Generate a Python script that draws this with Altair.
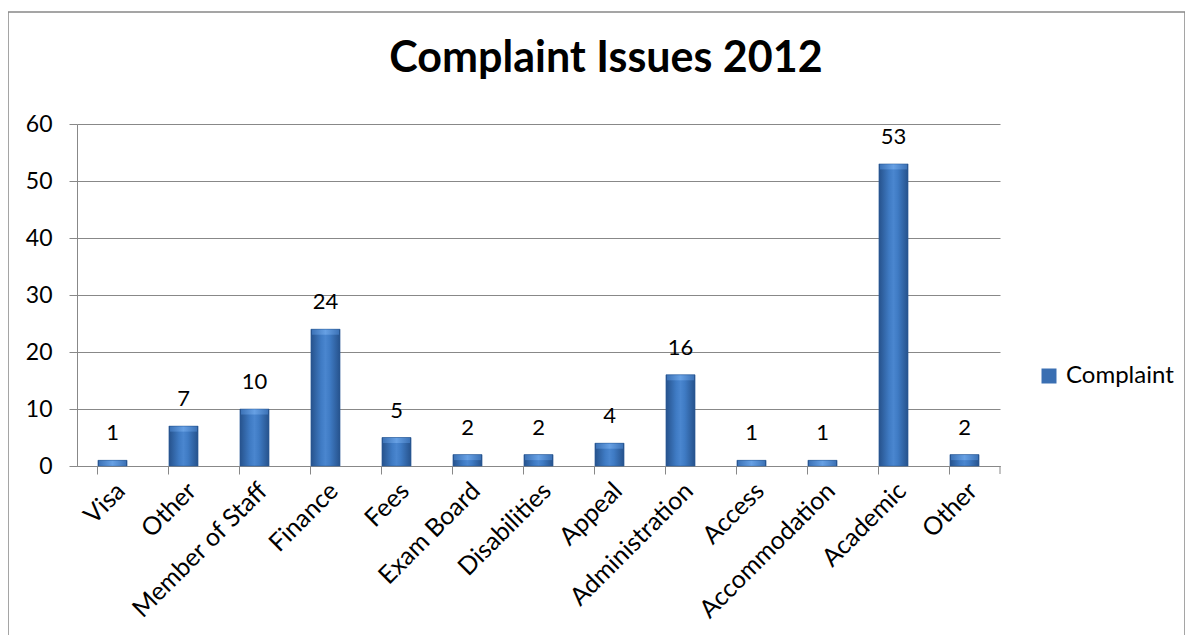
import altair as alt
import pandas as pd
import json

categories = ["Visa", "Other", "Member of Staff", "Finance", "Fees", "Exam Board",
              "Disabilities", "Appeal", "Administration", "Access", "Accommodation",
              "Academic", "Other"]
values = [1, 7, 10, 24, 5, 2, 2, 4, 16, 1, 1, 53, 2]
series = "Complaint"
title_text = "Complaint Issues 2012"

df = pd.DataFrame({
    "idx": list(range(len(categories))),
    "name": categories,
    "value": values,
    "series": [series] * len(categories),
})

FONT = "Lato"
W, H = 923, 342

label_expr = "%s[datum.value]" % json.dumps(categories)

x = alt.X("idx:O",
          scale=alt.Scale(paddingInner=0.59, paddingOuter=0.295),
          axis=alt.Axis(title=None, labelExpr=label_expr, labelAngle=-45,
                        labelAlign="right", labelBaseline="top",
                        labelFontSize=25, labelFont=FONT, labelColor="#000000",
                        labelPadding=4, bandPosition=0, tickSize=8,
                        tickColor="#888888", domainColor="#888888",
                        labelOverlap=False))
y = alt.Y("value:Q",
          scale=alt.Scale(domain=[0, 60]),
          axis=alt.Axis(title=None, values=[0, 10, 20, 30, 40, 50, 60],
                        labelFontSize=23, labelFont=FONT, labelColor="#000000",
                        tickSize=8, tickColor="#888888", domainColor="#888888",
                        gridColor="#888888", gridWidth=1, labelPadding=17))

base = alt.Chart(df)

legend_bars = base.mark_bar().encode(
    x=x, y=y,
    color=alt.Color("series:N",
                    scale=alt.Scale(range=["#3a6fb2"]),
                    legend=alt.Legend(title=None, orient="none",
                                      legendX=960, legendY=240,
                                      symbolType="square", symbolSize=225,
                                      labelFontSize=24, labelFont=FONT,
                                      labelOffset=5,
                                      labelColor="#000000", symbolStrokeWidth=0)),
)

grad = alt.Gradient(
    gradient="linear",
    stops=[alt.GradientStop(color="#26528c", offset=0),
           alt.GradientStop(color="#3f7bc4", offset=0.35),
           alt.GradientStop(color="#4a86cf", offset=0.5),
           alt.GradientStop(color="#3f7bc4", offset=0.65),
           alt.GradientStop(color="#26528c", offset=1)],
    x1=0, x2=1, y1=0, y2=0,
)

bars = base.mark_bar(fill=grad, stroke="#2a5a96", strokeWidth=0.5).encode(x=x, y=y)

bevel_grad = alt.Gradient(
    gradient="linear",
    stops=[alt.GradientStop(color="#3f76bb", offset=0),
           alt.GradientStop(color="#6aa3e6", offset=0.5),
           alt.GradientStop(color="#3f76bb", offset=1)],
    x1=0, x2=1, y1=0, y2=0,
)

bevel = base.mark_tick(fill=bevel_grad, thickness=5, size=27, yOffset=3,
                       opacity=0.9).encode(x=x, y=y)

labels = base.mark_text(fontSize=22, font=FONT, color="#000000",
                        baseline="middle", dy=-27).encode(
    x=x, y=y, text=alt.Text("value:Q"))

one = pd.DataFrame({"v": [0]})

end_tick = alt.Chart(one).mark_rule(color="#888888").encode(
    x=alt.value(W), x2=alt.value(W), y=alt.value(H), y2=alt.value(H + 8))

border = alt.Chart(one).mark_rect(
    fill=None, stroke="#888888", strokeWidth=1.5).encode(
    x=alt.value(-69), x2=alt.value(1108), y=alt.value(-112), y2=alt.value(700))

title = alt.Chart(one).mark_text(
    fontSize=43, font=FONT, fontWeight="bold", color="#000000",
    align="center", baseline="alphabetic").encode(
    x=alt.value(529), y=alt.value(-52), text=alt.value(title_text))

chart = alt.layer(border, legend_bars, bars, bevel, labels, end_tick, title).properties(
    width=W, height=H,
    autosize=alt.AutoSizeParams(type="none"),
    padding={"left": 69, "top": 116, "right": 185, "bottom": 169},
).configure_view(stroke=None).configure_axisX(grid=False)

chart.save("out.html", embed_options={"renderer": "svg", "actions": False})
